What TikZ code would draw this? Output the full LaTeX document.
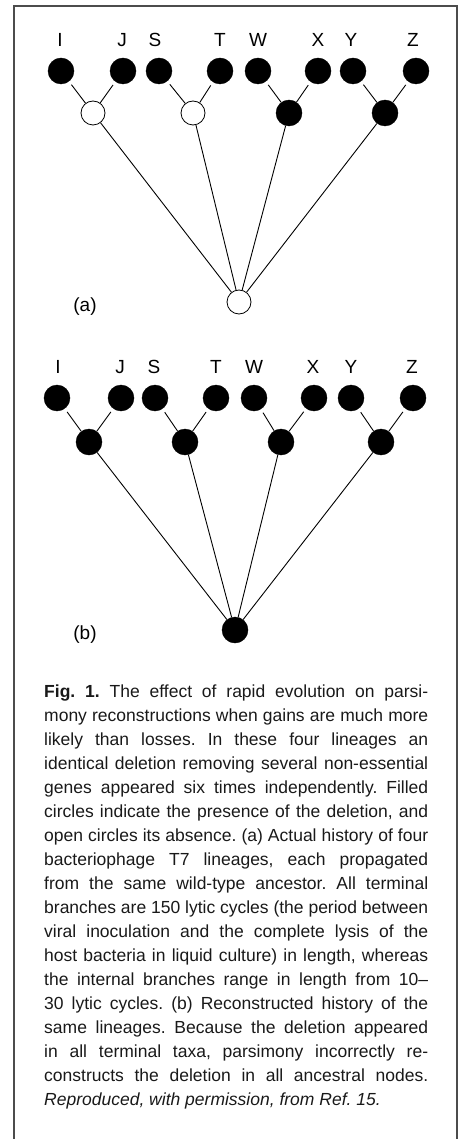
\documentclass[tikz,border=0pt]{standalone}
\usepackage{fontspec}
\setmainfont{Liberation Sans}
\frenchspacing

\newcommand{\capline}[1]{\makebox[384pt][s]{#1}}

\tikzset{
	present/.style={circle, draw=black, fill=black, inner sep=0pt, minimum size=26pt},
	absent/.style={circle, draw=black, fill=white, line width=0.8pt, inner sep=0pt, minimum size=24pt},
	taxon/.style={inner sep=0pt, font=\fontsize{19}{19}\selectfont},
	branch/.style={line width=0.9pt},
	tipbranch/.style={branch, shorten <=4pt},
}

\begin{document}
\begin{tikzpicture}[x=1pt, y=-1pt]

	% Dimensions
	\def\framel{14}
	\def\framer{457}
	\def\framet{6}
	\useasboundingbox (0,0) rectangle (464,1139);

	% Frame, open at the bottom
	\draw[black!70, line width=1.3pt] (\framel,1139) -- (\framel,\framet) -- (\framer,\framet) -- (\framer,1139);

	% (a) Actual history
	\node[taxon] (laI) at (60,40) {I};
	\node[taxon] (laJ) at (122,40) {J};
	\node[taxon] (laS) at (155,40) {S};
	\node[taxon] (laT) at (220,40) {T};
	\node[taxon] (laW) at (258,40) {W};
	\node[taxon] (laX) at (318,40) {X};
	\node[taxon] (laY) at (351,40) {Y};
	\node[taxon] (laZ) at (413,40) {Z};
	\node[present] (aI) at (61,71) {};
	\node[present] (aJ) at (123,71) {};
	\node[present] (aS) at (159,71) {};
	\node[present] (aT) at (220,71) {};
	\node[present] (aW) at (258,71) {};
	\node[present] (aX) at (318,71) {};
	\node[present] (aY) at (353,71) {};
	\node[present] (aZ) at (416,71) {};
	\node[absent] (aIJ) at (93,113) {};
	\node[absent] (aST) at (193,113) {};
	\node[present] (aWX) at (289,113) {};
	\node[present] (aYZ) at (385,113) {};
	\node[absent] (aroot) at (239,302) {};
	\node[taxon] (atag) at (85,307) {(a)};
	\draw[tipbranch] (aI) -- (aIJ);
	\draw[tipbranch] (aJ) -- (aIJ);
	\draw[tipbranch] (aS) -- (aST);
	\draw[tipbranch] (aT) -- (aST);
	\draw[tipbranch] (aW) -- (aWX);
	\draw[tipbranch] (aX) -- (aWX);
	\draw[tipbranch] (aY) -- (aYZ);
	\draw[tipbranch] (aZ) -- (aYZ);
	\draw[branch] (aIJ) -- (aroot);
	\draw[branch] (aST) -- (aroot);
	\draw[branch] (aWX) -- (aroot);
	\draw[branch] (aYZ) -- (aroot);

	% (b) Reconstructed history
	\node[taxon] (lbI) at (58,367) {I};
	\node[taxon] (lbJ) at (120,367) {J};
	\node[taxon] (lbS) at (154,367) {S};
	\node[taxon] (lbT) at (216,367) {T};
	\node[taxon] (lbW) at (254,367) {W};
	\node[taxon] (lbX) at (313,367) {X};
	\node[taxon] (lbY) at (351,367) {Y};
	\node[taxon] (lbZ) at (412,367) {Z};
	\node[present] (bI) at (57,398) {};
	\node[present] (bJ) at (121,398) {};
	\node[present] (bS) at (155,398) {};
	\node[present] (bT) at (216,398) {};
	\node[present] (bW) at (254,398) {};
	\node[present] (bX) at (314,398) {};
	\node[present] (bY) at (351,398) {};
	\node[present] (bZ) at (413,398) {};
	\node[present] (bIJ) at (89,442) {};
	\node[present] (bST) at (185,442) {};
	\node[present] (bWX) at (281,442) {};
	\node[present] (bYZ) at (381,442) {};
	\node[present] (broot) at (235,630) {};
	\node[taxon] (btag) at (85,635) {(b)};
	\draw[tipbranch] (bI) -- (bIJ);
	\draw[tipbranch] (bJ) -- (bIJ);
	\draw[tipbranch] (bS) -- (bST);
	\draw[tipbranch] (bT) -- (bST);
	\draw[tipbranch] (bW) -- (bWX);
	\draw[tipbranch] (bX) -- (bWX);
	\draw[tipbranch] (bY) -- (bYZ);
	\draw[tipbranch] (bZ) -- (bYZ);
	\draw[branch] (bIJ) -- (broot);
	\draw[branch] (bST) -- (broot);
	\draw[branch] (bWX) -- (broot);
	\draw[branch] (bYZ) -- (broot);

	% Caption
	\node[anchor=north west, inner sep=0pt, align=left, text=black!90, font=\fontsize{17.5}{24}\selectfont] (caption) at (44,685) {%
		\capline{\textbf{Fig. 1.} The effect of rapid evolution on parsi-}\\
		\capline{mony reconstructions when gains are much more}\\
		\capline{likely than losses. In these four lineages an}\\
		\capline{identical deletion removing several non-essential}\\
		\capline{genes appeared six times independently. Filled}\\
		\capline{circles indicate the presence of the deletion, and}\\
		\capline{open circles its absence. (a) Actual history of four}\\
		\capline{bacteriophage T7 lineages, each propagated}\\
		\capline{from the same wild-type ancestor. All terminal}\\
		\capline{branches are 150 lytic cycles (the period between}\\
		\capline{viral inoculation and the complete lysis of the}\\
		\capline{host bacteria in liquid culture) in length, whereas}\\
		\capline{the internal branches range in length from 10--}\\
		\capline{30 lytic cycles. (b) Reconstructed history of the}\\
		\capline{same lineages. Because the deletion appeared}\\
		\capline{in all terminal taxa, parsimony incorrectly re-}\\
		\capline{constructs the deletion in all ancestral nodes.}\\
		\textit{Reproduced, with permission, from Ref. 15.}};

\end{tikzpicture}
\end{document}
